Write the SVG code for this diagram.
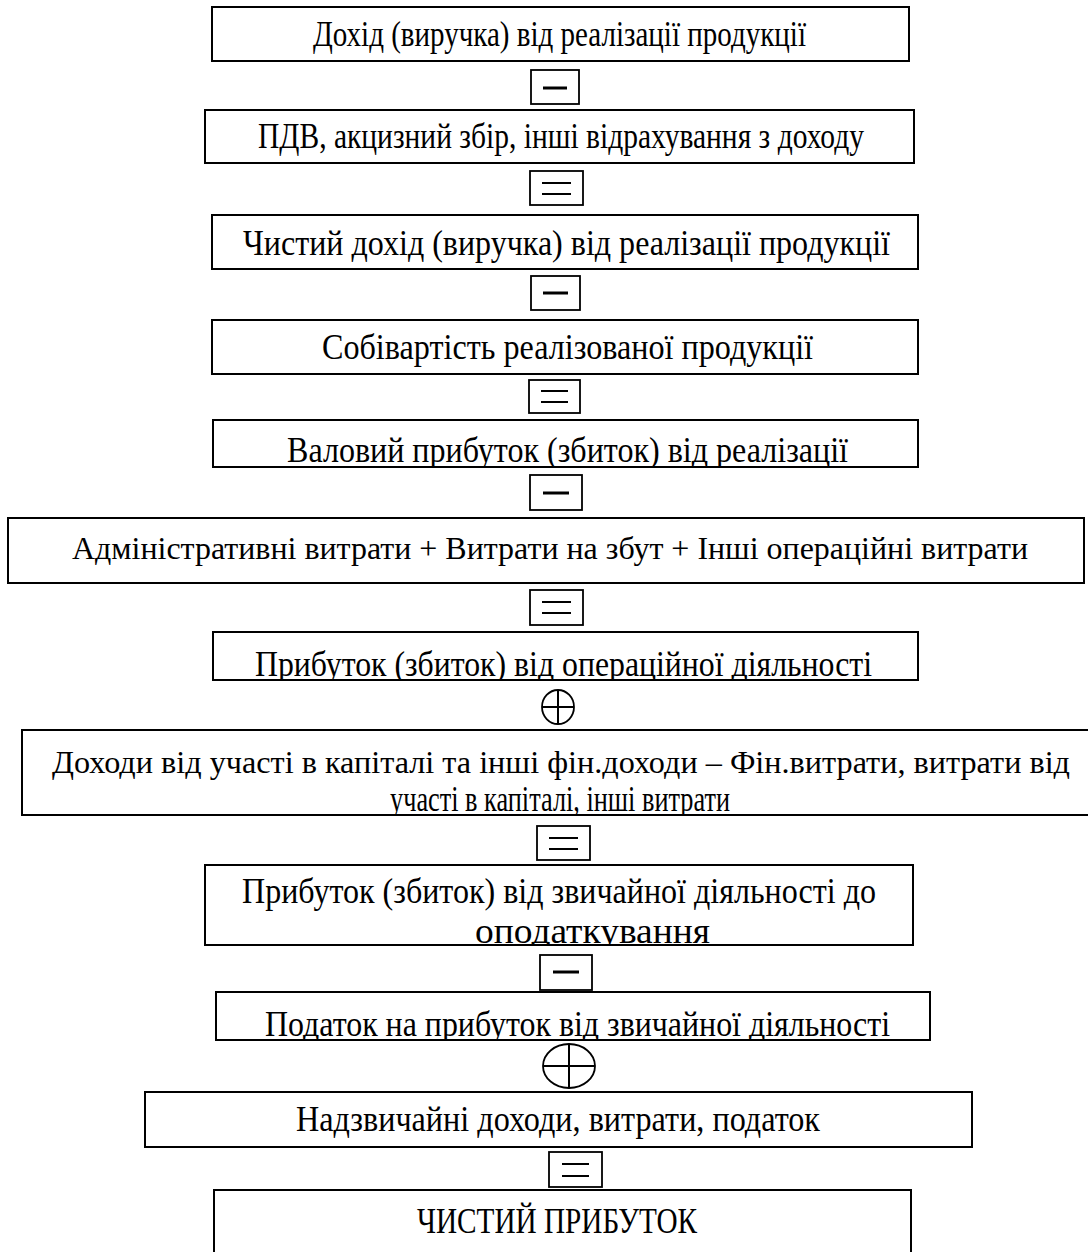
<svg xmlns="http://www.w3.org/2000/svg" width="1088" height="1252" viewBox="0 0 1088 1252">
<defs>
<style>
.box{fill:#fff;stroke:#000;stroke-width:2}
.op{fill:#fff;stroke:#000;stroke-width:1.8}
.t{font-family:"Liberation Serif","Times New Roman",serif;font-size:35px;fill:#000}
.w{font-size:32px}
.m{stroke:#000;stroke-width:3}
.e{stroke:#000;stroke-width:2}
.p{fill:none;stroke:#000;stroke-width:1.8}
</style>
<clipPath id="c5"><rect x="213" y="420" width="705" height="47"/></clipPath>
<clipPath id="c7"><rect x="213" y="630" width="705" height="50"/></clipPath>
<clipPath id="c8"><rect x="22" y="730" width="1066" height="85"/></clipPath>
<clipPath id="c9"><rect x="205" y="865" width="708" height="80"/></clipPath>
<clipPath id="c10"><rect x="216" y="992" width="714" height="48"/></clipPath>
</defs>
<rect width="1088" height="1252" fill="#fff"/>
<g id="n1"><rect class="box" x="212" y="7" width="697" height="54"/><text class="t" x="313" y="46" textLength="493" lengthAdjust="spacingAndGlyphs">Дохід (виручка) від реалізації продукції</text></g>
<g id="n2"><rect class="box" x="205" y="110" width="709" height="53"/><text class="t" x="258" y="148" textLength="606" lengthAdjust="spacingAndGlyphs">ПДВ, акцизний збір, інші відрахування з доходу</text></g>
<g id="n3"><rect class="box" x="212" y="215" width="706" height="54"/><text class="t" x="243" y="255" textLength="647" lengthAdjust="spacingAndGlyphs">Чистий дохід (виручка) від реалізації продукції</text></g>
<g id="n4"><rect class="box" x="212" y="320" width="706" height="54"/><text class="t" x="322" y="359" textLength="491" lengthAdjust="spacingAndGlyphs">Собівартість реалізованої продукції</text></g>
<g id="n5"><rect class="box" x="213" y="420" width="705" height="47"/><text class="t" x="287" y="462" textLength="561" lengthAdjust="spacingAndGlyphs" clip-path="url(#c5)">Валовий прибуток (збиток) від реалізації</text></g>
<g id="n6"><rect class="box" x="8" y="518" width="1076" height="65"/><text class="t w" x="72" y="559" textLength="956" lengthAdjust="spacingAndGlyphs">Адміністративні витрати + Витрати на збут + Інші операційні витрати</text></g>
<g id="n7"><rect class="box" x="213" y="632" width="705" height="48"/><text class="t" x="255" y="676" textLength="617" lengthAdjust="spacingAndGlyphs" clip-path="url(#c7)">Прибуток (збиток) від операційної діяльності</text></g>
<g id="n8"><rect class="box" x="22" y="730" width="1070" height="85"/><text class="t w" x="52" y="773" textLength="1018" lengthAdjust="spacingAndGlyphs">Доходи від участі в капіталі та інші фін.доходи – Фін.витрати, витрати від</text><text class="t" x="390" y="811" textLength="340" lengthAdjust="spacingAndGlyphs" clip-path="url(#c8)">участі в капіталі, інші витрати</text></g>
<g id="n9"><rect class="box" x="205" y="865" width="708" height="80"/><text class="t" x="242" y="903" textLength="634" lengthAdjust="spacingAndGlyphs">Прибуток (збиток) від звичайної діяльності до</text><text class="t" x="475" y="943" textLength="235" lengthAdjust="spacingAndGlyphs" clip-path="url(#c9)">оподаткування</text></g>
<g id="n10"><rect class="box" x="216" y="992" width="714" height="48"/><text class="t" x="265" y="1036" textLength="625" lengthAdjust="spacingAndGlyphs" clip-path="url(#c10)">Податок на прибуток від звичайної діяльності</text></g>
<g id="n11"><rect class="box" x="145" y="1092" width="827" height="55"/><text class="t" x="296" y="1131" textLength="524" lengthAdjust="spacingAndGlyphs">Надзвичайні доходи, витрати, податок</text></g>
<g id="n12"><rect class="box" x="214" y="1190" width="697" height="80"/><text class="t" x="417" y="1233" textLength="280" lengthAdjust="spacingAndGlyphs">ЧИСТИЙ ПРИБУТОК</text></g>
<g id="connectors">
<g id="op1"><rect class="op" x="531" y="70" width="48" height="34"/><line class="m" x1="543" y1="88" x2="567" y2="88"/></g>
<g id="op2"><rect class="op" x="530" y="171" width="53" height="34"/><line class="e" x1="542" y1="183" x2="571" y2="183"/><line class="e" x1="542" y1="194" x2="571" y2="194"/></g>
<g id="op3"><rect class="op" x="531" y="276" width="49" height="34"/><line class="m" x1="543" y1="293" x2="568" y2="293"/></g>
<g id="op4"><rect class="op" x="529" y="380" width="51" height="33"/><line class="e" x1="541" y1="391" x2="568" y2="391"/><line class="e" x1="541" y1="402" x2="568" y2="402"/></g>
<g id="op5"><rect class="op" x="530" y="475" width="52" height="35"/><line class="m" x1="543" y1="493" x2="569" y2="493"/></g>
<g id="op6"><rect class="op" x="530" y="590" width="53" height="35"/><line class="e" x1="542" y1="602" x2="571" y2="602"/><line class="e" x1="542" y1="613" x2="571" y2="613"/></g>
<g id="op7"><ellipse class="p" cx="558" cy="707" rx="16" ry="17"/><line class="e" x1="542" y1="707" x2="574" y2="707"/><line class="e" x1="558" y1="690" x2="558" y2="724"/></g>
<g id="op8"><rect class="op" x="537" y="826" width="53" height="34"/><line class="e" x1="549" y1="838" x2="578" y2="838"/><line class="e" x1="549" y1="849" x2="578" y2="849"/></g>
<g id="op9"><rect class="op" x="540" y="955" width="52" height="35"/><line class="m" x1="553" y1="972" x2="579" y2="972"/></g>
<g id="op10"><ellipse class="p" cx="569" cy="1066" rx="26" ry="22"/><line class="e" x1="543" y1="1066" x2="595" y2="1066"/><line class="e" x1="569" y1="1044" x2="569" y2="1088"/></g>
<g id="op11"><rect class="op" x="549" y="1152" width="53" height="35"/><line class="e" x1="562" y1="1164" x2="589" y2="1164"/><line class="e" x1="562" y1="1176" x2="589" y2="1176"/></g>
</g>
</svg>
